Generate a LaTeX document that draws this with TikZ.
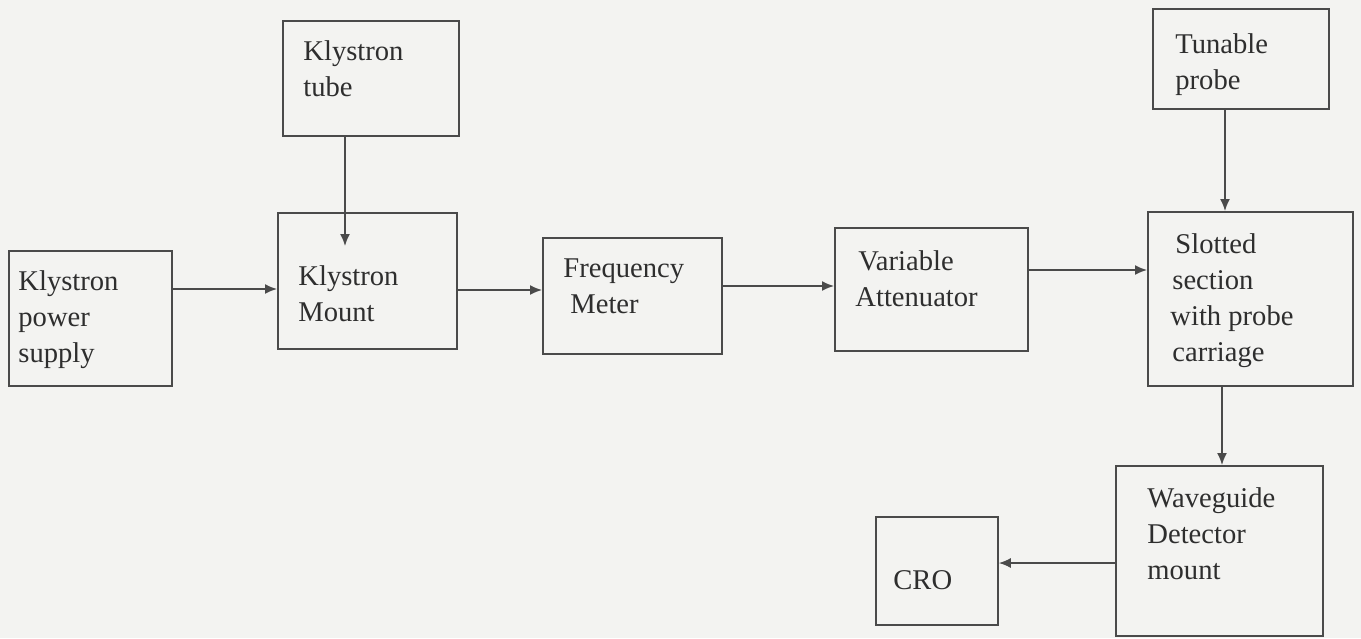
\documentclass[tikz,border=0pt]{standalone}
\usepackage{fontspec}
\setmainfont{Liberation Serif}
\usetikzlibrary{arrows.meta}
\definecolor{ink}{HTML}{4A4A4A}
\definecolor{txt}{HTML}{2E2E2E}
\definecolor{paper}{HTML}{F3F3F1}
\begin{document}
\begin{tikzpicture}[x=0.5pt,y=-0.5pt,
  box/.style={draw=ink,line width=0.9pt,inner sep=0pt,anchor=north west},
  lbl/.style={text=txt,anchor=north west,inner sep=0pt,align=left,
    font=\fontsize{14.3pt}{18pt}\selectfont},
  conn/.style={draw=ink,line width=0.8pt,-{Latex[length=6pt,width=5pt]}}]
\fill[paper] (0,0) rectangle (1361,638);
\useasboundingbox (0,0) rectangle (1361,638);
% boxes
\node[box,minimum width=88pt,minimum height=57.5pt] (kt) at (282,20) {};
\node[box,minimum width=89.5pt,minimum height=68pt] (km) at (277,212) {};
\node[box,minimum width=81.5pt,minimum height=67.5pt] (ps) at (8,250) {};
\node[box,minimum width=89.5pt,minimum height=58pt] (fm) at (542,237) {};
\node[box,minimum width=96.5pt,minimum height=61.5pt] (va) at (834,227) {};
\node[box,minimum width=88pt,minimum height=50pt] (tp) at (1152,8) {};
\node[box,minimum width=102.5pt,minimum height=87pt] (ss) at (1147,211) {};
\node[box,minimum width=103.5pt,minimum height=85pt] (wd) at (1115,465) {};
\node[box,minimum width=61pt,minimum height=54pt] (cro) at (875,516) {};
% labels
\node[lbl] (ktl) at (303,40) {Klystron\\tube};
\node[lbl] (kml) at (298,265) {Klystron\\Mount};
\node[lbl] (psl) at (18,270) {Klystron\\power\\supply};
\node[lbl] (fml) at (563,258) {Frequency\\\hspace*{3.5pt}Meter};
\node[lbl] (val) at (855,250) {\hspace*{1.5pt}Variable\\Attenuator};
\node[lbl] (tpl) at (1175,33) {Tunable\\probe};
\node[lbl] (ssl) at (1170,233) {\hspace*{2.5pt}Slotted\\\hspace*{1pt}section\\with probe\\\hspace*{1pt}carriage};
\node[lbl] (wdl) at (1147,487) {Waveguide\\Detector\\mount};
\node[lbl] (crol) at (893,570) {CRO};
% connectors
\coordinate (kmin) at (345,246);
\draw[conn] (kt.south -| kmin) -- (kmin);
\coordinate (tpx) at (1225,0);
\draw[conn] (tp.south -| tpx) -- (ss.north -| tpx);
\coordinate (ssx) at (1222,0);
\draw[conn] (ss.south -| ssx) -- (wd.north -| ssx);
\coordinate (y1) at (0,289);
\draw[conn] (ps.east |- y1) -- (km.west |- y1);
\coordinate (y2) at (0,290);
\draw[conn] (km.east |- y2) -- (fm.west |- y2);
\coordinate (y3) at (0,286);
\draw[conn] (fm.east |- y3) -- (va.west |- y3);
\coordinate (y4) at (0,270);
\draw[conn] (va.east |- y4) -- (ss.west |- y4);
\coordinate (y5) at (0,563);
\draw[conn] (wd.west |- y5) -- (cro.east |- y5);
\end{tikzpicture}
\end{document}
